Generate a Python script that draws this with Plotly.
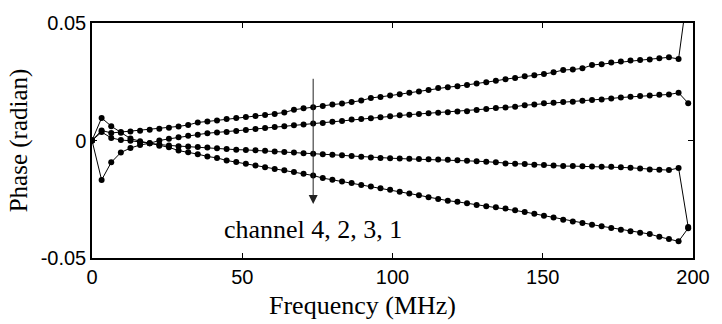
import plotly.graph_objects as go

# Frequency (MHz), 63 samples
freq = [0.0, 3.2, 6.4, 9.6, 12.8, 16.0, 19.2, 22.4, 25.6, 28.8,
        32.0, 35.2, 38.4, 41.6, 44.8, 48.0, 51.2, 54.4, 57.6, 60.8,
        64.0, 67.2, 70.4, 73.6, 76.8, 80.0, 83.2, 86.4, 89.6, 92.8,
        96.0, 99.2, 102.4, 105.6, 108.8, 112.0, 115.2, 118.4, 121.6, 124.8,
        128.0, 131.2, 134.4, 137.6, 140.8, 144.0, 147.2, 150.4, 153.6, 156.8,
        160.0, 163.2, 166.4, 169.6, 172.8, 176.0, 179.2, 182.4, 185.6, 188.8,
        192.0, 195.2, 198.4]

ch4 = [0.0, 0.0043, 0.0032, 0.0036, 0.0038, 0.0042, 0.0046, 0.0050, 0.0054, 0.0060,
       0.0066, 0.0077, 0.0081, 0.0085, 0.0092, 0.0096, 0.0100, 0.0104, 0.0109, 0.0113,
       0.0119, 0.0131, 0.0137, 0.0142, 0.0147, 0.0153, 0.0157, 0.0164, 0.0170, 0.0181,
       0.0185, 0.0191, 0.0197, 0.0203, 0.0209, 0.0215, 0.0223, 0.0227, 0.0231, 0.0236,
       0.0243, 0.0248, 0.0254, 0.0261, 0.0266, 0.0273, 0.0278, 0.0283, 0.0290, 0.0300,
       0.0302, 0.0307, 0.0321, 0.0325, 0.0332, 0.0336, 0.0340, 0.0343, 0.0345, 0.0350,
       0.0354, 0.0347, 0.0650]

ch2 = [0.0, -0.0168, -0.0093, -0.0051, -0.0032, -0.0019, -0.0012, 0.0000, 0.0007, 0.0014,
       0.0020, 0.0025, 0.0031, 0.0034, 0.0036, 0.0040, 0.0045, 0.0049, 0.0053, 0.0057,
       0.0061, 0.0065, 0.0068, 0.0072, 0.0075, 0.0080, 0.0083, 0.0089, 0.0092, 0.0095,
       0.0099, 0.0103, 0.0107, 0.0110, 0.0113, 0.0116, 0.0118, 0.0120, 0.0123, 0.0125,
       0.0130, 0.0134, 0.0138, 0.0140, 0.0144, 0.0150, 0.0153, 0.0158, 0.0161, 0.0164,
       0.0165, 0.0169, 0.0172, 0.0175, 0.0179, 0.0183, 0.0186, 0.0189, 0.0192, 0.0195,
       0.0196, 0.0203, 0.0159]

ch3 = [0.0, 0.0036, 0.0011, 0.0002, -0.0001, -0.0007, -0.0012, -0.0017, -0.0021, -0.0024,
       -0.0025, -0.0028, -0.0030, -0.0033, -0.0036, -0.0039, -0.0040, -0.0042, -0.0044, -0.0047,
       -0.0049, -0.0051, -0.0054, -0.0056, -0.0058, -0.0061, -0.0063, -0.0066, -0.0069, -0.0072,
       -0.0074, -0.0075, -0.0077, -0.0078, -0.0079, -0.0080, -0.0081, -0.0082, -0.0084, -0.0086,
       -0.0088, -0.0090, -0.0093, -0.0098, -0.0099, -0.0100, -0.0103, -0.0104, -0.0106, -0.0109,
       -0.0109, -0.0110, -0.0111, -0.0112, -0.0112, -0.0114, -0.0116, -0.0119, -0.0123, -0.0124,
       -0.0126, -0.0117, -0.0368]

ch1 = [0.0, 0.0096, 0.0061, 0.0033, 0.0008, -0.0003, -0.0012, -0.0022, -0.0029, -0.0043,
       -0.0050, -0.0058, -0.0068, -0.0074, -0.0085, -0.0092, -0.0099, -0.0106, -0.0114, -0.0121,
       -0.0127, -0.0134, -0.0141, -0.0149, -0.0160, -0.0167, -0.0174, -0.0181, -0.0189, -0.0196,
       -0.0203, -0.0210, -0.0218, -0.0226, -0.0233, -0.0241, -0.0249, -0.0256, -0.0261, -0.0267,
       -0.0274, -0.0280, -0.0284, -0.0289, -0.0297, -0.0304, -0.0312, -0.0320, -0.0328, -0.0337,
       -0.0345, -0.0351, -0.0358, -0.0365, -0.0372, -0.0380, -0.0386, -0.0393, -0.0398, -0.0410,
       -0.0419, -0.0429, -0.0373]

series = [ch4, ch2, ch3, ch1]

x_ticks = [0, 50, 100, 150, 200]
x_ticktext = ["0", "50", "100", "150", "200"]
y_ticks = [-0.05, 0, 0.05]
y_ticktext = ["-0.05", "0", "0.05"]

annotation_text = "channel 4, 2, 3, 1"
arrow_x = 73.6
arrow_tail_y = 0.0269
arrow_head_y = -0.0270
text_y = -0.0378

fig = go.Figure()
for ys in series:
    fig.add_trace(go.Scatter(
        x=freq, y=ys, mode="lines+markers",
        line=dict(color="black", width=1),
        marker=dict(color="black", size=6),
        showlegend=False,
    ))

fig.add_annotation(
    x=arrow_x, y=arrow_head_y, ax=arrow_x, ay=arrow_tail_y,
    xref="x", yref="y", axref="x", ayref="y",
    text="", showarrow=True, arrowhead=2, arrowsize=1.8, arrowwidth=1,
    arrowcolor="#222222",
)
fig.add_annotation(
    x=arrow_x, y=text_y, xref="x", yref="y",
    text=annotation_text, showarrow=False,
    font=dict(family="Liberation Serif", size=26, color="black"),
    xanchor="center", yanchor="middle",
)
fig.add_annotation(
    x=(365 - 92) / 607, y=-0.2, xref="paper", yref="paper",
    text="Frequency (MHz)", showarrow=False,
    font=dict(family="Liberation Serif", size=26, color="black"),
    xanchor="center", yanchor="middle",
)

fig.update_layout(
    width=722, height=324,
    margin=dict(l=92, r=23, t=19, b=66),
    paper_bgcolor="white", plot_bgcolor="white",
    xaxis=dict(
        range=[0, 200], tickvals=x_ticks, ticktext=x_ticktext,
        ticks="inside", ticklen=5, tickwidth=1, tickcolor="black",
        showline=True, linecolor="black", linewidth=1.5, mirror="ticks",
        showgrid=False, zeroline=False,
        tickfont=dict(family="Liberation Sans", size=20, color="black"),
    ),
    yaxis=dict(
        range=[-0.05, 0.05], tickvals=y_ticks, ticktext=y_ticktext,
        ticks="inside", ticklen=5, tickwidth=1, tickcolor="black",
        showline=True, linecolor="black", linewidth=1.5, mirror="ticks",
        showgrid=False, zeroline=False,
        tickfont=dict(family="Liberation Sans", size=20, color="black"),
        title=dict(text="Phase (radian)", standoff=6,
                   font=dict(family="Liberation Serif", size=25, color="black")),
    ),
)

fig.write_html("out.html")
